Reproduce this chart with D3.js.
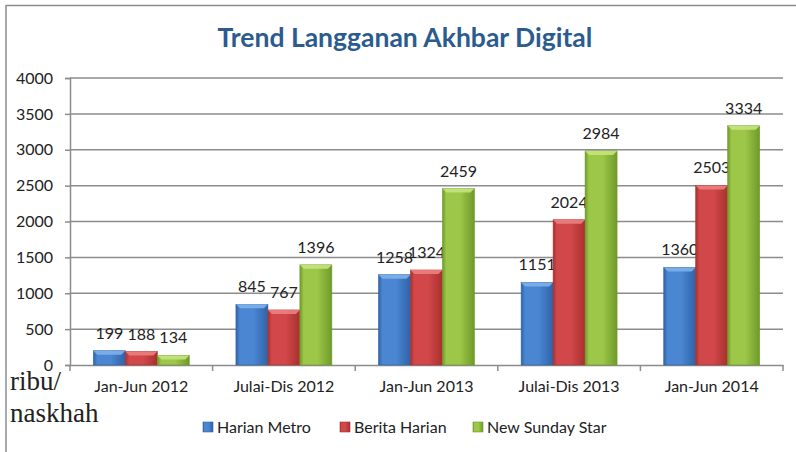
<!DOCTYPE html>
<html>
<head>
<meta charset="utf-8">
<script src="https://cdn.jsdelivr.net/npm/d3@7"></script>
<style>
  body { margin: 0; background: #fff; }
  svg { display: block; }
</style>
</head>
<body>
<div id="chart"></div>
<script>
const periods = ['Jan-Jun 2012', 'Julai-Dis 2012', 'Jan-Jun 2013', 'Julai-Dis 2013', 'Jan-Jun 2014'];
const seriesNames = ['Harian Metro', 'Berita Harian', 'New Sunday Star'];
const harianMetro = [199, 845, 1258, 1151, 1360];
const beritaHarian = [188, 767, 1324, 2024, 2503];
const newSundayStar = [134, 1396, 2459, 2984, 3334];
const yTicks = [0, 500, 1000, 1500, 2000, 2500, 3000, 3500, 4000];

const palette = [
  { dark: '#2f63a8', mid: '#4a86d2', light: '#7fb0ea' },
  { dark: '#a8302d', mid: '#d2484a', light: '#ec8080' },
  { dark: '#6f9a2a', mid: '#9cc748', light: '#c4e47e' }
];

const allSeries = [harianMetro, beritaHarian, newSundayStar];
const W = 796, H = 452;
const margin = { top: 78, right: 13, bottom: 87, left: 70 };

const svg = d3.select('#chart').append('svg')
  .attr('width', W).attr('height', H)
  .style('font-family', 'Lato, "Open Sans", sans-serif');

const defs = svg.append('defs');
palette.forEach((c, i) => {
  const g = defs.append('linearGradient').attr('id', 'grad' + i)
    .attr('x1', 0).attr('x2', 1).attr('y1', 0).attr('y2', 0);
  g.append('stop').attr('offset', '0%').attr('stop-color', c.dark);
  g.append('stop').attr('offset', '12%').attr('stop-color', c.mid);
  g.append('stop').attr('offset', '55%').attr('stop-color', c.mid);
  g.append('stop').attr('offset', '100%').attr('stop-color', c.dark);
});

// outer frame (top and left edges visible)
svg.append('line').attr('x1', 6).attr('x2', W).attr('y1', 5.5).attr('y2', 5.5)
  .attr('stroke', '#8c8c8c').attr('stroke-width', 1.5);
svg.append('line').attr('x1', 6).attr('x2', 6).attr('y1', 5).attr('y2', H)
  .attr('stroke', '#8c8c8c').attr('stroke-width', 1.5);

svg.append('text')
  .attr('x', 405).attr('y', 47)
  .attr('text-anchor', 'middle')
  .attr('font-size', 26.5).attr('font-weight', 'bold')
  .attr('fill', '#2b5b8f')
  .text('Trend Langganan Akhbar Digital');

const width = W - margin.left - margin.right;
const plotBottom = 365;
const x = d3.scaleBand().domain(periods).range([margin.left, margin.left + width]);
const x1 = d3.scaleBand().domain(d3.range(3)).range([0, x.bandwidth()]).paddingOuter(0.73).paddingInner(0);
const y = d3.scaleLinear().domain([0, 4000]).range([plotBottom, margin.top]);

// gridlines + y axis
const yAxis = svg.append('g')
  .attr('transform', `translate(${margin.left},0)`)
  .call(d3.axisLeft(y).tickValues(yTicks).tickFormat(d3.format('d')).tickSize(5).tickPadding(12));
yAxis.select('.domain').attr('stroke', '#8c8c8c').attr('stroke-width', 1.5);
yAxis.selectAll('.tick line').attr('stroke', '#8c8c8c').attr('stroke-width', 1.5);
yAxis.selectAll('.tick text').attr('font-size', 16).attr('fill', '#222')
  .attr('font-family', 'Lato, sans-serif');

svg.append('g').selectAll('line')
  .data(yTicks.filter(d => d > 0))
  .join('line')
  .attr('x1', margin.left).attr('x2', margin.left + width)
  .attr('y1', d => y(d)).attr('y2', d => y(d))
  .attr('stroke', '#8c8c8c').attr('stroke-width', 1.5);

// x axis
const xAxis = svg.append('g')
  .attr('transform', `translate(0,${plotBottom})`)
  .call(d3.axisBottom(x).tickSize(0).tickPadding(16));
xAxis.select('.domain').attr('stroke', '#8c8c8c').attr('stroke-width', 1.5);
xAxis.selectAll('.tick text').attr('font-size', 16).attr('fill', '#222')
  .attr('font-family', 'Lato, sans-serif');
svg.append('g').selectAll('line')
  .data(d3.range(periods.length + 1))
  .join('line')
  .attr('x1', i => margin.left + i * x.step()).attr('x2', i => margin.left + i * x.step())
  .attr('y1', plotBottom).attr('y2', plotBottom + 6)
  .attr('stroke', '#8c8c8c').attr('stroke-width', 1.5);

// bars
const bevel = 4;
allSeries.forEach((vals, si) => {
  const g = svg.append('g');
  const bars = g.selectAll('g').data(vals).join('g')
    .attr('transform', (d, i) => `translate(${x(periods[i]) + x1(si)},0)`);
  const bw = x1.bandwidth();
  bars.append('rect')
    .attr('x', 0).attr('width', bw)
    .attr('y', d => y(d)).attr('height', d => plotBottom - y(d))
    .attr('fill', `url(#grad${si})`)
    .attr('stroke', palette[si].dark).attr('stroke-width', 0.6);
  bars.append('path')
    .attr('d', d => {
      const t = y(d);
      const b = Math.min(bevel, (plotBottom - t) / 2);
      return `M0,${t}L${bw},${t}L${bw - b},${t + b}L${b},${t + b}Z`;
    })
    .attr('fill', palette[si].light).attr('opacity', 0.9);
  bars.append('text')
    .attr('x', bw / 2).attr('y', d => y(d) - 12)
    .attr('text-anchor', 'middle')
    .attr('font-size', 16).attr('fill', '#222')
    .text(d => d);
});

// unit label
svg.append('text')
  .attr('x', 10).attr('y', 390)
  .attr('font-family', '"Liberation Serif", "DejaVu Serif", serif')
  .attr('font-size', 27).attr('fill', '#222')
  .text('ribu/');
svg.append('text')
  .attr('x', 10).attr('y', 422)
  .attr('font-family', '"Liberation Serif", "DejaVu Serif", serif')
  .attr('font-size', 27).attr('fill', '#222')
  .text('naskhah');

// legend
const legendX = [203, 340, 473];
const legend = svg.append('g').selectAll('g').data(seriesNames).join('g')
  .attr('transform', (d, i) => `translate(${legendX[i]},422)`);
legend.append('rect')
  .attr('width', 10).attr('height', 10)
  .attr('fill', (d, i) => `url(#grad${i})`)
  .attr('stroke', (d, i) => palette[i].dark).attr('stroke-width', 0.6);
legend.append('text')
  .attr('x', 14).attr('y', 10.5)
  .attr('font-size', 16).attr('fill', '#222')
  .text(d => d);
</script>
</body>
</html>
